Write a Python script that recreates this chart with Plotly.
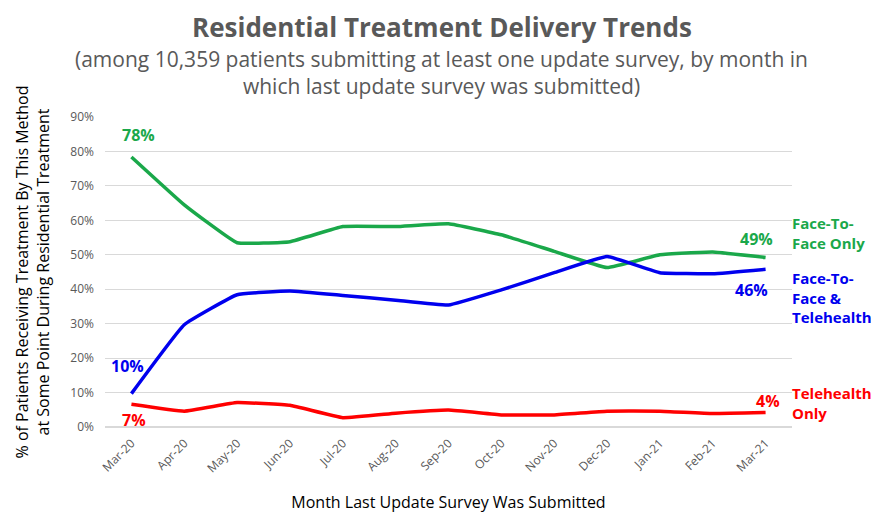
import plotly.graph_objects as go

months = ["Mar-20", "Apr-20", "May-20", "Jun-20", "Jul-20", "Aug-20", "Sep-20",
          "Oct-20", "Nov-20", "Dec-20", "Jan-21", "Feb-21", "Mar-21"]
face_to_face = [78.4, 64.5, 53.5, 53.8, 58.2, 58.2, 59.0, 55.8, 51.0, 46.3, 50.0, 50.8, 49.2]
both = [9.7, 29.7, 38.4, 39.5, 38.2, 36.8, 35.4, 39.8, 44.8, 49.5, 44.8, 44.5, 45.8]
telehealth = [6.6, 4.6, 7.1, 6.3, 2.7, 4.0, 4.9, 3.5, 3.5, 4.6, 4.6, 3.9, 4.2]
y_ticks = [0, 10, 20, 30, 40, 50, 60, 70, 80, 90]

GREEN = "#1aa84a"
BLUE = "#0000ee"
RED = "#ff0000"
GREY = "#595959"
FONT = "Open Sans"

fig = go.Figure()
for vals, color, name in [(face_to_face, GREEN, "Face-To-Face Only"),
                          (both, BLUE, "Face-To-Face & Telehealth"),
                          (telehealth, RED, "Telehealth Only")]:
    fig.add_trace(go.Scatter(x=months, y=vals, mode="lines", name=name,
                             line=dict(color=color, width=3.5, shape="spline", smoothing=0.3)))

# point labels at the start and end of each series
point_labels = [
    (months[0], face_to_face[0], "78%", GREEN, 7, -22),
    (months[0], both[0], "10%", BLUE, -4, -28),
    (months[0], telehealth[0], "7%", RED, 3, 16),
    (months[-1], face_to_face[-1], "49%", GREEN, -9, -19),
    (months[-1], both[-1], "46%", BLUE, -14, 21),
    (months[-1], telehealth[-1], "4%", RED, 2, -12),
]
for x, y, text, color, dx, dy in point_labels:
    fig.add_annotation(x=x, y=y, text=f"<b>{text}</b>", showarrow=False,
                       xshift=dx, yshift=-dy, font=dict(family=FONT, size=16, color=color))

side_labels = [
    ("Face-To-<br>Face Only", GREEN, 0.626),
    ("Face-To-<br>Face &<br>Telehealth", BLUE, 0.419),
    ("Telehealth<br>Only", RED, 0.076),
]
for text, color, y in side_labels:
    fig.add_annotation(x=1.0, y=y, xref="paper", yref="paper", xanchor="left",
                       yanchor="middle", text=f"<b>{text}</b>", showarrow=False,
                       align="left", xshift=-2,
                       font=dict(family=FONT, size=15, color=color))

fig.add_annotation(x=0.49, y=1.29, xref="paper", yref="paper", showarrow=False,
                   yanchor="middle", text="<b>Residential Treatment Delivery Trends</b>",
                   font=dict(family=FONT, size=26, color=GREY))
fig.add_annotation(x=0.49, y=1.142, xref="paper", yref="paper", showarrow=False,
                   yanchor="middle",
                   text="(among 10,359 patients submitting at least one update survey, by month in<br>which last update survey was submitted)",
                   font=dict(family=FONT, size=21, color=GREY))

# page body adds an 8px offset, so the figure is sized to fit the window
fig.update_layout(
    width=871,
    height=505,
    margin=dict(l=97, r=87, t=109, b=86, autoexpand=False),
    plot_bgcolor="white",
    paper_bgcolor="white",
    showlegend=False,
    font=dict(family=FONT, color=GREY),
)
fig.update_xaxes(
    type="category",
    range=[-0.5, 12.5],
    automargin=False,
    tickangle=-45,
    tickfont=dict(family=FONT, size=12, color=GREY),
    ticklabelstandoff=6,
    showgrid=False,
    title=dict(text="Month Last Update Survey Was Submitted",
               font=dict(family=FONT, size=16, color="#000000"), standoff=21),
)
fig.update_yaxes(
    range=[0, 90],
    automargin=False,
    tickvals=y_ticks,
    ticktext=[f"{v}%" for v in y_ticks],
    tickfont=dict(family=FONT, size=12, color=GREY),
    ticklabelstandoff=10,
    gridcolor="#d9d9d9",
    zerolinecolor="#d9d9d9",
    ticklen=0,
    title=dict(text="% of Patients Receiving Treatment By This Method<br>at Some Point During Residential Treatment",
               font=dict(family=FONT, size=16, color="#000000"), standoff=16),
)

fig.write_html("out.html")
